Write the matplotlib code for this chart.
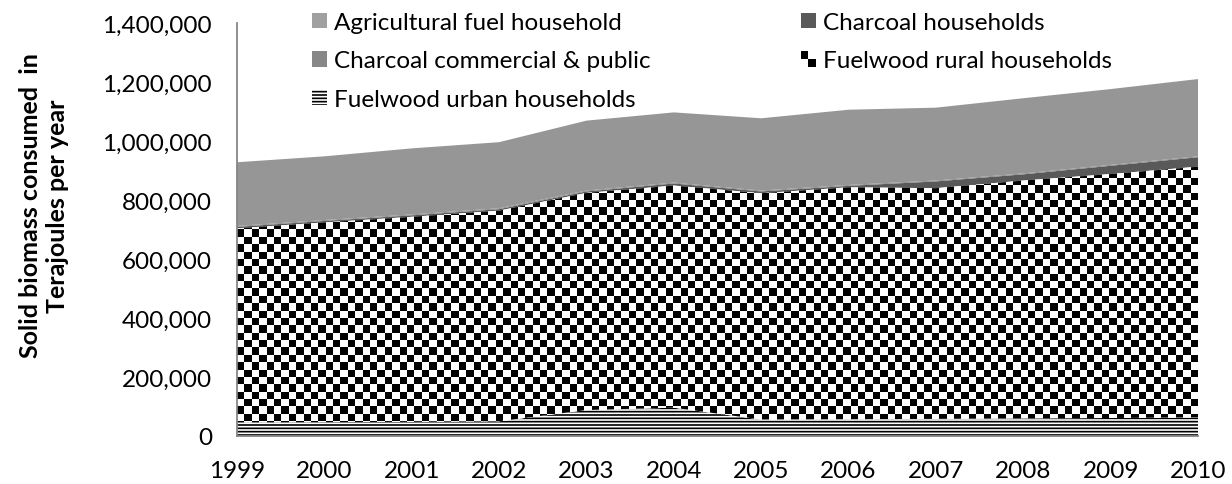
import numpy as np
import matplotlib
matplotlib.use("Agg")
import matplotlib.pyplot as plt
from matplotlib.patches import Patch, Rectangle
from matplotlib.legend_handler import HandlerBase
from matplotlib.ticker import FuncFormatter

# ---- data (Terajoules per year) ----
years = [1999, 2000, 2001, 2002, 2003, 2004, 2005, 2006, 2007, 2008, 2009, 2010]
fuelwood_urban = [46000, 47000, 48000, 50000, 88000, 96000, 56000, 57000, 58000, 60000, 61000, 63000]
fuelwood_rural = [658000, 677000, 695000, 714000, 736000, 753000, 767000, 786000, 782000, 806000, 827000, 850000]
charcoal_households = [5000, 5000, 5000, 5000, 5000, 7000, 6000, 5000, 23000, 21000, 28000, 32000]
charcoal_commercial = [3000, 3000, 3000, 3000, 3000, 3000, 3000, 3000, 3000, 3000, 3000, 3000]
agricultural_fuel = [216000, 216000, 224000, 224000, 237000, 238000, 245000, 255000, 247000, 255000, 257000, 262000]

y_ticks = [0, 200000, 400000, 600000, 800000, 1000000, 1200000, 1400000]

FONT = "Lato"
plt.rcParams["font.family"] = [FONT, "DejaVu Sans"]
plt.rcParams["hatch.linewidth"] = 1.2
plt.rcParams["hatch.color"] = "black"

W, H = 1232, 485
fig = plt.figure(figsize=(W / 100, H / 100), dpi=100)
ax_left, ax_right, ax_top, ax_bottom = 237, 1198, 24, 437
ax = fig.add_axes([ax_left / W, 1 - ax_bottom / H,
                   (ax_right - ax_left) / W, (ax_bottom - ax_top) / H])

col_agri = "#969696"
col_ch = "#595959"
col_cc = "#888888"

polys = ax.stackplot(years, fuelwood_urban, fuelwood_rural, charcoal_households,
                     charcoal_commercial, agricultural_fuel,
                     colors=["white", "white", col_ch, col_cc, col_agri],
                     linewidth=0)
for p in polys:
    p.set_linewidth(0)
    p.set_antialiased(True)

# horizontal stripes for urban fuelwood
polys[0].set_facecolor("white")
polys[0].set_edgecolor("black")
polys[0].set_hatch("-----")

# checkerboard for rural fuelwood, clipped to its stacked band
cell_px = 7.4
nx = int(round((ax_right - ax_left) / cell_px))
ny = int(round((ax_bottom - ax_top) / cell_px))
checker = (np.add.outer(np.arange(ny), np.arange(nx)) % 2).astype(float)
im = ax.imshow(checker, cmap="gray", vmin=0, vmax=1, interpolation="nearest",
               extent=(years[0], years[-1], 0, y_ticks[-1]), aspect="auto",
               origin="upper", zorder=1.5)
im.set_clip_path(polys[1].get_paths()[0], ax.transData)

ax.set_xlim(years[0], years[-1])
ax.set_ylim(0, y_ticks[-1])
ax.set_xticks(years)
ax.set_yticks(y_ticks)
ax.yaxis.set_major_formatter(FuncFormatter(lambda v, _: f"{int(v):,}"))
ax.tick_params(axis="both", length=0, labelsize=17.5, colors="black")
ax.tick_params(axis="y", pad=18)
ax.tick_params(axis="x", pad=17)

for s in ["top", "right"]:
    ax.spines[s].set_visible(False)
for s in ["left", "bottom"]:
    ax.spines[s].set_color("#868686")
    ax.spines[s].set_linewidth(1.3)
    ax.spines[s].set_zorder(3)

fig.text(44 / W, 1 - 206 / H, "Solid biomass consumed  in\nTerajoules per year",
         rotation=90, ha="center", va="center", fontsize=18, fontweight="bold",
         linespacing=1.2)


class CheckerHandler(HandlerBase):
    def create_artists(self, legend, orig_handle, xdescent, ydescent, width,
                       height, fontsize, trans):
        n = 2
        cw, ch = width / n, height / n
        arts = []
        for i in range(n):
            for j in range(n):
                c = "black" if (i + j) % 2 == 1 else "white"
                arts.append(Rectangle((-xdescent + i * cw, -ydescent + j * ch), cw, ch,
                                      facecolor=c, edgecolor="none", transform=trans))
        return arts


h_agri = Patch(facecolor="#a0a0a0", edgecolor="none")
h_ch = Patch(facecolor=col_ch, edgecolor="none")
h_cc = Patch(facecolor="#878787", edgecolor="none")
h_rural = Patch(facecolor="white", edgecolor="none")
h_urban = Patch(facecolor="white", edgecolor="black", linewidth=0, hatch="-----")

handles = [h_agri, h_cc, h_urban, h_ch, h_rural]
labels = ["Agricultural fuel household", "Charcoal commercial & public",
          "Fuelwood urban households", "Charcoal households", "Fuelwood rural households"]
leg = fig.legend(handles, labels, ncol=2, loc="upper left",
                 bbox_to_anchor=(312 / W, 1 - 13 / H), frameon=False,
                 fontsize=17.5, handlelength=0.62, handleheight=0.62,
                 handletextpad=0.27, columnspacing=6.2, labelspacing=0.72,
                 borderpad=0, borderaxespad=0,
                 handler_map={h_rural: CheckerHandler()})

fig.savefig("out.png", dpi=100)
